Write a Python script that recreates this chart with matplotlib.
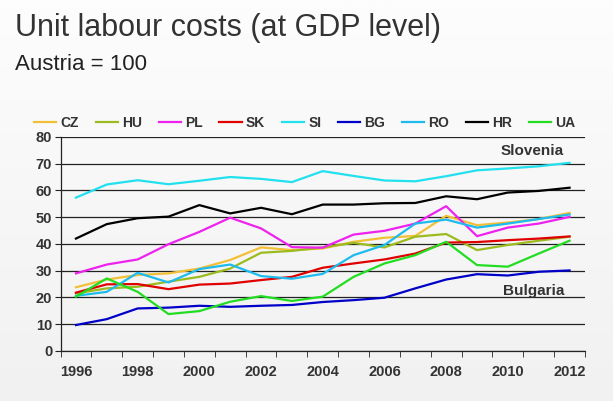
"""Unit labour costs at GDP level, Austria = 100, selected CEE countries."""

import matplotlib

matplotlib.use("Agg")

import matplotlib.pyplot as plt
import numpy as np

YEARS = list(range(1996, 2013))
COUNTRIES = ["CZ", "HU", "PL", "SK", "SI", "BG", "RO", "HR", "UA"]

CZ = [23.8, 26.7, 28.4, 29.0, 30.8, 34.0, 38.7, 37.7, 38.3, 40.8, 42.3, 43.0, 50.5, 47.0, 48.0, 49.3, 51.6]
HU = [21.5, 23.4, 24.0, 25.9, 27.7, 30.8, 36.7, 37.4, 38.7, 40.4, 38.7, 42.7, 43.7, 37.7, 39.6, 41.2, 42.7]
PL = [29.0, 32.3, 34.2, 39.9, 44.5, 49.8, 45.8, 38.8, 38.6, 43.5, 44.9, 47.6, 54.1, 42.9, 46.1, 47.6, 50.1]
SK = [21.8, 24.9, 25.0, 23.1, 24.8, 25.2, 26.5, 27.7, 31.1, 32.7, 34.2, 36.4, 40.5, 40.7, 41.4, 42.0, 42.8]
SI = [57.3, 62.2, 63.8, 62.3, 63.6, 65.0, 64.3, 63.1, 67.2, 65.4, 63.7, 63.4, 65.3, 67.5, 68.2, 69.0, 70.3]
BG = [9.7, 11.9, 15.9, 16.2, 16.9, 16.5, 16.9, 17.2, 18.3, 19.0, 19.9, 23.4, 26.7, 28.7, 28.2, 29.6, 30.1]
RO = [20.6, 22.1, 29.2, 25.6, 30.6, 32.3, 28.0, 27.0, 28.8, 35.8, 39.6, 47.6, 49.1, 46.1, 47.6, 49.3, 51.0]
HR = [42.0, 47.4, 49.6, 50.2, 54.5, 51.4, 53.5, 51.1, 54.7, 54.7, 55.2, 55.3, 57.8, 56.7, 59.2, 59.8, 61.0]
UA = [20.3, 27.1, 22.1, 13.8, 14.9, 18.4, 20.5, 18.7, 20.3, 27.7, 32.7, 35.8, 40.8, 32.1, 31.5, 36.4, 41.2]

SERIES = {"CZ": CZ, "HU": HU, "PL": PL, "SK": SK, "SI": SI, "BG": BG, "RO": RO, "HR": HR, "UA": UA}
COLORS = {
    "CZ": "#F2C037",
    "HU": "#9BBB1E",
    "PL": "#EE22EE",
    "SK": "#E00000",
    "SI": "#22E0EE",
    "BG": "#0000C8",
    "RO": "#1EBBEE",
    "HR": "#000000",
    "UA": "#22DD22",
}

TEXT = "#333333"
plt.rcParams["font.family"] = ["Liberation Sans", "DejaVu Sans"]

fig = plt.figure(figsize=(6.13, 4.01), dpi=100)
fig.patch.set_facecolor("#f3f3f3")

# soft background gradient
bg = fig.add_axes([0, 0, 1, 1], zorder=-10)
grad = np.linspace(1.0, 0.0, 256).reshape(-1, 1)
bg.imshow(grad, aspect="auto", cmap=matplotlib.colors.LinearSegmentedColormap.from_list("g", ["#f1f1f1", "#fdfdfd"]),
          extent=[0, 1, 0, 1])
bg.axis("off")

fig.text(0.024, 0.93, "Unit labour costs (at GDP level)", fontsize=22, color=TEXT, va="center")
fig.text(0.024, 0.84, "Austria = 100", fontsize=16, color="#222222", va="center")

ax = fig.add_axes([0.0987, 0.1247, 0.8556, 0.534])
ax.patch.set_alpha(0)
x = np.arange(len(YEARS))
for c in COUNTRIES:
    ax.plot(x, SERIES[c], color=COLORS[c], linewidth=1.6, label=c, zorder=3)

ax.set_xlim(-0.5, len(YEARS) - 0.5)
ax.set_ylim(0, 80)
ax.set_yticks(range(0, 81, 10))
ax.yaxis.grid(True, color="#222222", linewidth=0.9)
ax.set_axisbelow(True)
ax.set_xticks(x[::2])
ax.set_xticklabels([str(y) for y in YEARS[::2]])
ax.set_xticks(np.arange(-0.5, len(YEARS)), minor=True)
ax.tick_params(axis="x", which="major", length=0, pad=10)
ax.tick_params(axis="x", which="minor", length=4, color="#222222", direction="out")
ax.tick_params(axis="y", length=4, color="#222222", pad=2)
for lab in ax.get_xticklabels() + ax.get_yticklabels():
    lab.set_fontweight("bold")
    lab.set_fontsize(10.5)
    lab.set_color(TEXT)
for s in ("top", "right"):
    ax.spines[s].set_visible(False)
for s in ("left", "bottom"):
    ax.spines[s].set_color("#222222")
    ax.spines[s].set_linewidth(0.9)

ax.text(0.96, 0.934, "Slovenia", transform=ax.transAxes, ha="right", va="center",
        fontsize=11, fontweight="bold", color=TEXT)
ax.text(0.96, 0.282, "Bulgaria", transform=ax.transAxes, ha="right", va="center",
        fontsize=11, fontweight="bold", color=TEXT)

leg = fig.legend(loc="center", bbox_to_anchor=(0.497, 0.693), ncol=len(COUNTRIES), frameon=False,
                 handlelength=1.6, handletextpad=0.3, columnspacing=1.2,
                 prop={"weight": "bold", "size": 10})
for t in leg.get_texts():
    t.set_color(TEXT)

fig.savefig("out.png", dpi=100, facecolor=fig.get_facecolor())
